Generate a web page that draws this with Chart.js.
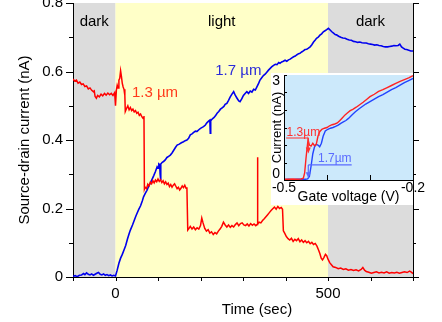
<!DOCTYPE html>
<html>
<head>
<meta charset="utf-8">
<script src="https://cdn.jsdelivr.net/npm/chart.js@4.4.1/dist/chart.umd.min.js"></script>
<style>
  body { margin: 0; background: #fff; }
  #wrap { position: relative; width: 442px; height: 322px; }
  canvas { position: absolute; }
</style>
</head>
<body>
<div id="wrap">
  <canvas id="main" width="442" height="322" style="left:0;top:0"></canvas>
  <canvas id="inset" width="160" height="132" style="left:271px;top:73px"></canvas>
</div>
<script>
// main panel: source-drain current vs time
const redTime = [
  -100,-96,-92,-88,-84,-80,-76,-72,-68,-64,
  -60,-56,-52,-50,-48,-45,-42,-38,-34,-30,
  -26,-22,-18,-14,-10,-6,-2,0,2,4,
  6,8,10,12,14,16,18,20,22,23,
  26,29,32,35,38,41,44,47,50,53,
  56,59,62,65,67,68,70,73,76,79,
  82,85,88,91,94,97,100,103,106,109,
  112,115,118,121,124,127,130,133,136,139,
  142,145,148,151,154,157,160,163,166,168,
  170,173,176,180,184,188,192,196,200,203,
  206,210,214,218,222,226,230,234,238,242,
  246,250,254,258,262,266,270,274,278,282,
  286,290,294,298,302,306,310,314,318,322,
  326,330,333,334,335,338,342,346,350,354,
  358,362,366,370,374,378,382,386,390,393,
  395,398,402,406,410,414,418,422,426,430,
  434,438,442,446,450,454,458,462,466,470,
  474,478,481,484,487,490,494,497,500,504,
  508,512,518,524,530,536,542,548,554,560,
  566,572,578,582,586,590,596,602,608,614,
  620,626,632,638,644,650,656,662,668,674,
  680,686,692,696,700
];
const redCurrent = [
  .578,.572,.575,.566,.569,.562,.564,.556,.558,.549,
  .552,.545,.541,.543,.527,.522,.530,.526,.534,.529,
  .536,.531,.537,.532,.536,.530,.538,.500,.545,.560,
  .552,.575,.580,.602,.585,.565,.555,.548,.530,.483,
  .492,.500,.488,.495,.486,.490,.482,.486,.478,.481,
  .472,.476,.468,.463,.470,.256,.262,.258,.271,.266,
  .277,.272,.281,.275,.283,.278,.286,.279,.284,.276,
  .281,.272,.278,.270,.274,.264,.270,.262,.268,.272,
  .265,.258,.262,.254,.259,.266,.261,.268,.259,.262,
  .137,.142,.148,.140,.146,.138,.144,.140,.150,.172,
  .158,.142,.134,.138,.128,.132,.124,.130,.126,.134,
  .140,.148,.160,.152,.146,.152,.145,.150,.146,.153,
  .158,.150,.156,.158,.152,.150,.155,.149,.156,.151,
  .155,.150,.153,.350,.155,.160,.158,.165,.170,.176,
  .182,.188,.194,.199,.204,.198,.206,.200,.203,.198,
  .135,.128,.118,.112,.108,.113,.104,.110,.106,.112,
  .103,.108,.101,.106,.100,.104,.097,.101,.095,.098,
  .090,.078,.068,.055,.050,.056,.066,.062,.052,.042,
  .036,.030,.028,.024,.026,.022,.024,.020,.022,.019,
  .021,.018,.022,.028,.020,.016,.014,.011,.013,.015,
  .012,.014,.012,.015,.011,.013,.012,.014,.011,.013,
  .015,.013,.017,.014,.010
];
const blueTime = [
  -100,-95,-90,-85,-80,-75,-72,-68,-64,-60,
  -56,-52,-48,-44,-40,-36,-32,-28,-24,-20,
  -16,-12,-8,-4,0,4,8,12,16,20,
  24,28,32,35,40,44,48,51,55,59,
  63,66,70,74,78,82,86,90,94,98,
  100,102,104,105,106,107,110,113,117,121,
  125,129,133,137,141,145,150,155,160,164,
  168,172,176,180,184,188,192,196,200,204,
  207,211,215,219,222,223,224,228,232,236,
  239,243,247,251,255,258,262,266,270,274,
  278,282,286,290,293,297,301,305,309,313,
  317,321,325,329,333,337,340,344,348,352,
  356,360,364,368,372,376,380,384,387,391,
  395,399,403,407,411,415,419,423,427,431,
  434,438,442,446,450,454,458,462,466,470,
  473,477,481,485,489,493,497,501,505,509,
  513,517,520,525,530,535,540,545,550,555,
  560,565,570,575,580,585,590,595,600,605,
  610,615,620,625,630,635,640,645,650,655,
  660,665,669,673,677,681,685,690,695,700
];
const blueCurrent = [
  .002,.004,.001,.005,.006,.010,.007,.012,.008,.006,
  .009,.005,.008,.011,.013,.008,.006,.009,.005,.007,
  .004,.006,.003,.005,.003,.020,.040,.055,.066,.079,
  .092,.110,.126,.137,.152,.165,.178,.187,.198,.208,
  .222,.234,.244,.253,.265,.274,.285,.296,.308,.322,
  .318,.330,.328,.300,.283,.330,.335,.337,.342,.349,
  .352,.356,.362,.370,.378,.385,.388,.392,.395,.398,
  .400,.405,.415,.418,.422,.426,.425,.430,.434,.437,
  .439,.443,.450,.455,.458,.420,.456,.462,.466,.472,
  .478,.483,.490,.494,.498,.504,.507,.516,.526,.534,
  .541,.530,.522,.514,.512,.520,.530,.536,.541,.536,
  .543,.540,.548,.546,.556,.566,.575,.582,.588,.592,
  .598,.604,.609,.614,.618,.621,.620,.626,.624,.628,
  .630,.633,.630,.634,.636,.640,.643,.645,.649,.652,
  .653,.657,.660,.664,.665,.668,.672,.678,.686,.692,
  .697,.700,.706,.710,.716,.719,.722,.726,.721,.716,
  .712,.708,.707,.703,.700,.698,.697,.694,.692,.691,
  .688,.687,.685,.686,.684,.683,.683,.681,.680,.679,
  .677,.678,.676,.675,.673,.672,.672,.673,.674,.676,
  .675,.676,.680,.672,.668,.665,.664,.662,.660,.660
];
const timeLabels = [0, 500];
const currentLabels = [0, 0.2, 0.4, 0.6, 0.8];
const phaseEdges = [-100, 0, 500, 700];
const phaseNames = ['dark', 'light', 'dark'];

// inset: current vs gate voltage
const redGate = [
  -0.5,-0.49,-0.48,-0.47,-0.46,-0.455,-0.452,-0.449,-0.446,-0.444,
  -0.441,-0.437,-0.433,-0.429,-0.425,-0.421,-0.417,-0.412,-0.406,-0.4,
  -0.394,-0.388,-0.382,-0.376,-0.37,-0.364,-0.358,-0.352,-0.346,-0.34,
  -0.332,-0.324,-0.316,-0.308,-0.3,-0.29,-0.28,-0.27,-0.26,-0.25,
  -0.24,-0.23,-0.22,-0.21,-0.2
];
const redGateCurrent = [
  .02,.02,.03,.02,.03,.05,.2,.6,.95,1.15,
  1.0,.97,1.05,.98,1.02,1.25,1.38,1.45,1.48,1.5,
  1.55,1.58,1.6,1.63,1.7,1.78,1.86,1.92,1.98,2.02,
  2.08,2.15,2.22,2.3,2.38,2.45,2.53,2.58,2.64,2.7,
  2.76,2.82,2.87,2.92,2.98
];
const blueGate = [
  -0.5,-0.49,-0.48,-0.47,-0.46,-0.45,-0.445,-0.441,-0.437,-0.433,
  -0.429,-0.425,-0.421,-0.417,-0.413,-0.409,-0.404,-0.398,-0.392,-0.386,
  -0.38,-0.374,-0.368,-0.362,-0.356,-0.35,-0.342,-0.334,-0.326,-0.318,
  -0.31,-0.3,-0.29,-0.28,-0.27,-0.26,-0.25,-0.24,-0.23,-0.22,
  -0.21,-0.2
];
const blueGateCurrent = [
  .01,.02,.01,.02,.02,.02,.03,.1,.4,.75,
  .95,1.02,1.0,.95,1.05,1.25,1.4,1.45,1.48,1.5,
  1.53,1.57,1.62,1.66,1.7,1.76,1.86,1.95,2.03,2.1,
  2.17,2.24,2.31,2.38,2.44,2.51,2.58,2.64,2.71,2.78,
  2.84,2.9
];
const gateLabels = [-0.5, -0.2];
const insetCurrentLabels = [0, 3];

const FONT = '"Liberation Sans", Arial, sans-serif';
Chart.defaults.font.family = FONT;
Chart.defaults.color = '#000';

function pts(xs, ys) {
  return xs.map((x, i) => ({ x: x, y: ys[i] }));
}

const mainDecor = {
  id: 'mainDecor',
  beforeDraw(chart) {
    const { ctx, chartArea: a, scales: { x } } = chart;
    const fills = ['#dcdcdc', '#ffffc8', '#dcdcdc'];
    ctx.save();
    for (let i = 0; i < phaseNames.length; i++) {
      const x0 = x.getPixelForValue(phaseEdges[i]);
      const x1 = x.getPixelForValue(phaseEdges[i + 1]);
      ctx.fillStyle = fills[i];
      ctx.fillRect(x0, a.top, x1 - x0, a.bottom - a.top);
    }
    ctx.restore();
  },
  afterDraw(chart) {
    const { ctx, chartArea: a, scales: { x, y } } = chart;
    ctx.save();
    // tick marks, longer where there is a label
    ctx.strokeStyle = '#000';
    ctx.lineWidth = 1;
    ctx.beginPath();
    y.ticks.forEach(t => {
      const py = Math.round(y.getPixelForValue(t.value)) + 0.5;
      const major = t.label !== '';
      ctx.moveTo(a.left - (major ? 7 : 4), py); ctx.lineTo(a.left, py);
      ctx.moveTo(a.right, py); ctx.lineTo(a.right + (major ? 6 : 3), py);
    });
    x.ticks.forEach(t => {
      const px = Math.round(x.getPixelForValue(t.value)) + 0.5;
      ctx.moveTo(px, a.bottom); ctx.lineTo(px, a.bottom + 4);
    });
    ctx.stroke();

    ctx.font = '15px ' + FONT;
    ctx.textAlign = 'center';
    ctx.fillStyle = '#000';
    // x axis title sits a little right of the plot centre
    ctx.textBaseline = 'middle';
    ctx.fillText('Time (sec)', (a.left + a.right) / 2 + 14, 310);

    ctx.textBaseline = 'alphabetic';
    for (let i = 0; i < phaseNames.length; i++) {
      const mid = (phaseEdges[i] + phaseEdges[i + 1]) / 2;
      ctx.fillText(phaseNames[i], x.getPixelForValue(mid), a.top + 23);
    }
    ctx.fillStyle = '#ff3a1a';
    ctx.fillText('1.3 µm', x.getPixelForValue(93), y.getPixelForValue(0.526));
    ctx.fillStyle = '#2b2bd9';
    ctx.fillText('1.7 µm', x.getPixelForValue(289), y.getPixelForValue(0.59));
    ctx.restore();
  }
};

new Chart(document.getElementById('main'), {
  type: 'line',
  data: {
    datasets: [
      { data: pts(redTime, redCurrent), borderColor: '#ff0000', borderWidth: 1.5, pointRadius: 0 },
      { data: pts(blueTime, blueCurrent), borderColor: '#0000ee', borderWidth: 1.6, pointRadius: 0 }
    ]
  },
  options: {
    responsive: false,
    devicePixelRatio: 1,
    animation: false,
    events: [],
    layout: { padding: { top: 3, left: 0, right: 0, bottom: 0 } },
    plugins: { legend: { display: false }, tooltip: { enabled: false } },
    scales: {
      x: {
        type: 'linear', min: -100, max: 700,
        ticks: {
          stepSize: 100, autoSkip: false, maxRotation: 0, padding: 4, font: { size: 15 },
          callback: v => timeLabels.includes(v) ? String(v) : ''
        },
        grid: { drawOnChartArea: false, color: 'rgba(0,0,0,0)', tickLength: 4 },
        border: { color: '#000', width: 1 },
        afterFit: s => { s.height = 45; s.paddingLeft = 0; s.paddingRight = 0; }
      },
      y: {
        min: 0, max: 0.8,
        ticks: {
          stepSize: 0.1, autoSkip: false, padding: 3, font: { size: 15 },
          callback: v => {
            const r = Math.round(v * 10) / 10;
            return currentLabels.includes(r) ? (r === 0 ? '0' : r.toFixed(1)) : '';
          }
        },
        grid: { drawOnChartArea: false, color: 'rgba(0,0,0,0)', tickLength: 7 },
        border: { color: '#000', width: 1 },
        title: { display: true, text: 'Source-drain current (nA)', font: { size: 15 }, padding: { top: 16, bottom: 0 } },
        afterFit: s => { s.width = 73; s.paddingTop = 0; s.paddingBottom = 0; }
      },
      y2: {
        position: 'right', min: 0, max: 0.8,
        ticks: { display: false },
        grid: { drawOnChartArea: false, drawTicks: false },
        border: { color: '#000', width: 1 },
        afterFit: s => { s.width = 29; s.paddingTop = 0; s.paddingBottom = 0; }
      }
    }
  },
  plugins: [mainDecor]
});

const insetDecor = {
  id: 'insetDecor',
  beforeDraw(chart) {
    const { ctx, chartArea: a, height } = chart;
    ctx.save();
    ctx.fillStyle = '#fff';
    ctx.fillRect(0, 0, a.right, height);
    ctx.fillStyle = '#cce9fb';
    ctx.fillRect(a.left, a.top, a.right - a.left, a.bottom - a.top);
    ctx.restore();
  },
  afterDraw(chart) {
    const { ctx, chartArea: a, scales: { x, y } } = chart;
    ctx.save();
    ctx.strokeStyle = '#000';
    ctx.lineWidth = 1;
    ctx.beginPath();
    y.ticks.forEach(t => {
      const py = Math.round(y.getPixelForValue(t.value)) + 0.5;
      ctx.moveTo(a.left, py); ctx.lineTo(a.left + 3, py);
    });
    x.ticks.forEach(t => {
      const px = Math.round(x.getPixelForValue(t.value)) + 0.5;
      ctx.moveTo(px, a.bottom); ctx.lineTo(px, a.bottom - 5);
    });
    ctx.stroke();

    // wavelength markers with arrows
    const ax = x.getPixelForValue(-0.4435);
    function marker(color, text, textX, textY, lineX0, lineX1, lineY, tipY) {
      const ly = y.getPixelForValue(lineY);
      const ty = y.getPixelForValue(tipY);
      ctx.strokeStyle = color;
      ctx.fillStyle = color;
      ctx.lineWidth = 1.2;
      ctx.beginPath();
      ctx.moveTo(x.getPixelForValue(lineX0), ly);
      ctx.lineTo(x.getPixelForValue(lineX1), ly);
      ctx.moveTo(ax, ly);
      ctx.lineTo(ax, ty - 4);
      ctx.stroke();
      ctx.beginPath();
      ctx.moveTo(ax - 2.5, ty - 6);
      ctx.lineTo(ax + 2.5, ty - 6);
      ctx.lineTo(ax, ty);
      ctx.closePath();
      ctx.fill();
      ctx.font = '12px ' + FONT;
      ctx.textAlign = 'left';
      ctx.textBaseline = 'alphabetic';
      ctx.fillText(text, x.getPixelForValue(textX), y.getPixelForValue(textY));
    }
    marker('#ff3030', '1.3µm', -0.494, 1.27, -0.495, -0.4435, 1.2, 0.76);
    marker('#5a6bff', '1.7µm', -0.421, 0.51, -0.4435, -0.3426, 0.43, 0.05);
    ctx.restore();
  }
};

new Chart(document.getElementById('inset'), {
  type: 'line',
  data: {
    datasets: [
      { data: pts(redGate, redGateCurrent), borderColor: '#ff2222', borderWidth: 1.4, pointRadius: 0 },
      { data: pts(blueGate, blueGateCurrent), borderColor: '#2244ff', borderWidth: 1.4, pointRadius: 0 }
    ]
  },
  options: {
    responsive: false,
    devicePixelRatio: 1,
    animation: false,
    events: [],
    layout: { padding: { top: 2, left: 0, right: 18, bottom: 0 } },
    plugins: { legend: { display: false }, tooltip: { enabled: false } },
    scales: {
      x: {
        type: 'linear', min: -0.5, max: -0.2,
        ticks: {
          stepSize: 0.1, autoSkip: false, maxRotation: 0, padding: 0, font: { size: 14 },
          callback: v => gateLabels.some(g => Math.abs(g - v) < 1e-6) ? v.toFixed(1) : ''
        },
        grid: { drawOnChartArea: false, drawTicks: false, color: 'rgba(0,0,0,0)' },
        border: { color: '#000', width: 1 },
        title: { display: true, text: 'Gate voltage (V)', font: { size: 14, lineHeight: 1.1 }, padding: { top: 0, bottom: 0 } },
        afterFit: s => { s.height = 25; s.paddingLeft = 0; s.paddingRight = 0; }
      },
      y: {
        min: 0, max: 3,
        ticks: {
          stepSize: 0.5, autoSkip: false, padding: 4, font: { size: 14, lineHeight: 0.9 },
          callback: v => {
            if (!insetCurrentLabels.includes(v)) return '';
            return v === 0 ? ['0', ''] : ['', String(v)];
          }
        },
        grid: { drawOnChartArea: false, drawTicks: false, color: 'rgba(0,0,0,0)' },
        border: { color: '#000', width: 1 },
        title: { display: true, text: 'Current (nA)', font: { size: 13, lineHeight: 1 }, padding: { top: 0, bottom: 0 } },
        afterFit: s => { s.width = 13; s.paddingTop = 0; s.paddingBottom = 0; }
      }
    }
  },
  plugins: [insetDecor]
});
</script>
</body>
</html>
